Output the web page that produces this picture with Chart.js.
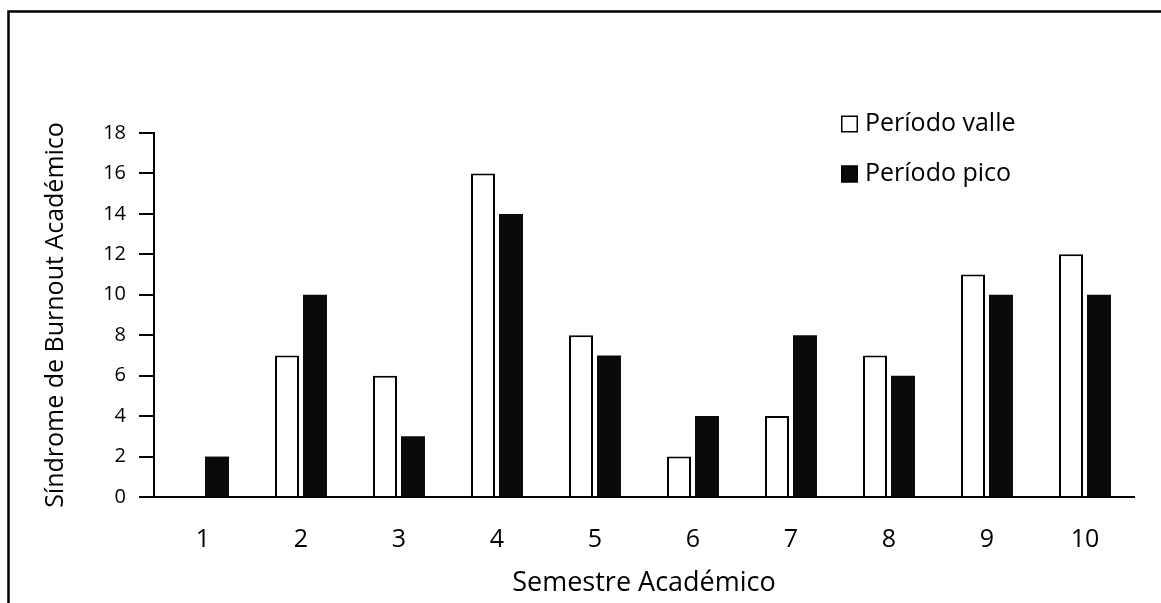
<!DOCTYPE html>
<html>
<head>
<meta charset="utf-8">
<script src="https://cdn.jsdelivr.net/npm/chart.js@4/dist/chart.umd.min.js"></script>
<style>
  html, body { margin: 0; padding: 0; background: #fff; }
  #wrap { width: 1161px; height: 603px; position: relative; }
</style>
</head>
<body>
<div id="wrap"><canvas id="c" width="1161" height="603"></canvas></div>
<script>
const categories = ['1', '2', '3', '4', '5', '6', '7', '8', '9', '10'];
const valleValues = [0, 7, 6, 16, 8, 2, 4, 7, 11, 12];
const picoValues = [2, 10, 3, 14, 7, 4, 8, 6, 10, 10];
const seriesNames = ['Período valle', 'Período pico'];
const yTickValues = [0, 2, 4, 6, 8, 10, 12, 14, 16, 18];
const xTitle = 'Semestre Académico';
const yTitle = 'Síndrome de Burnout Académico';

const FONT = "'Open Sans', sans-serif";

const framePlugin = {
  id: 'frame',
  beforeDraw(chart) {
    const ctx = chart.ctx;
    ctx.save();
    ctx.fillStyle = '#fff';
    ctx.fillRect(0, 0, chart.width, chart.height);
    ctx.strokeStyle = '#000';
    ctx.lineWidth = 2.5;
    ctx.beginPath();
    ctx.moveTo(8.5, chart.height + 5);
    ctx.lineTo(8.5, 11.5);
    ctx.lineTo(chart.width + 5, 11.5);
    ctx.stroke();
    ctx.restore();
  }
};

const legendPlugin = {
  id: 'customLegend',
  afterDraw(chart) {
    const ctx = chart.ctx;
    ctx.save();
    const x0 = 841, rows = [124, 174], box = 17;
    chart.data.datasets.forEach((ds, i) => {
      const cy = rows[i];
      ctx.fillStyle = ds.backgroundColor;
      ctx.fillRect(x0, cy - box / 2, box, box);
      ctx.strokeStyle = '#000';
      ctx.lineWidth = 1.5;
      ctx.strokeRect(x0 + 0.75, cy - box / 2 + 0.75, box - 1.5, box - 1.5);
      ctx.fillStyle = '#000';
      ctx.font = '25px ' + FONT;
      ctx.textBaseline = 'middle';
      ctx.textAlign = 'left';
      ctx.fillText(ds.label, x0 + 24, cy);
    });
    ctx.restore();
  }
};

new Chart(document.getElementById('c'), {
  type: 'bar',
  data: {
    labels: categories,
    datasets: [
      {
        label: seriesNames[0],
        data: valleValues,
        backgroundColor: '#ffffff',
        borderColor: '#000000',
        borderWidth: 2,
        categoryPercentage: 0.571,
        barPercentage: 0.857
      },
      {
        label: seriesNames[1],
        data: picoValues,
        backgroundColor: '#0a0a0a',
        borderColor: '#0a0a0a',
        borderWidth: 0,
        categoryPercentage: 0.571,
        barPercentage: 0.857
      }
    ]
  },
  options: {
    responsive: false,
    animation: false,
    devicePixelRatio: 1,
    layout: { padding: { top: 133, right: 27, left: 0, bottom: 0 } },
    plugins: {
      legend: { display: false },
      tooltip: { enabled: false },
      title: { display: false }
    },
    scales: {
      x: {
        grid: { display: false },
        border: { display: true, color: '#000', width: 2 },
        ticks: {
          color: '#000',
          font: { family: FONT, size: 25 },
          padding: 20,
          maxRotation: 0
        },
        title: {
          display: true,
          text: xTitle,
          color: '#000',
          font: { family: FONT, size: 27 },
          padding: { top: 0, bottom: 3 }
        },
        afterFit(scale) { scale.height = 106; }
      },
      y: {
        min: 0,
        max: 18,
        afterBuildTicks(scale) { scale.ticks = yTickValues.map(v => ({ value: v })); },
        grid: {
          display: true,
          drawOnChartArea: false,
          drawTicks: true,
          tickLength: 15,
          color: '#000',
          lineWidth: 2
        },
        border: { display: true, color: '#000', width: 2 },
        ticks: {
          color: '#000',
          font: { family: FONT, size: 20 },
          padding: 13
        },
        title: {
          display: true,
          text: yTitle,
          color: '#000',
          font: { family: FONT, size: 25 },
          padding: { top: 41, bottom: 0 }
        },
        afterFit(scale) { scale.width = 154; }
      }
    }
  },
  plugins: [framePlugin, legendPlugin]
});
</script>
</body>
</html>
